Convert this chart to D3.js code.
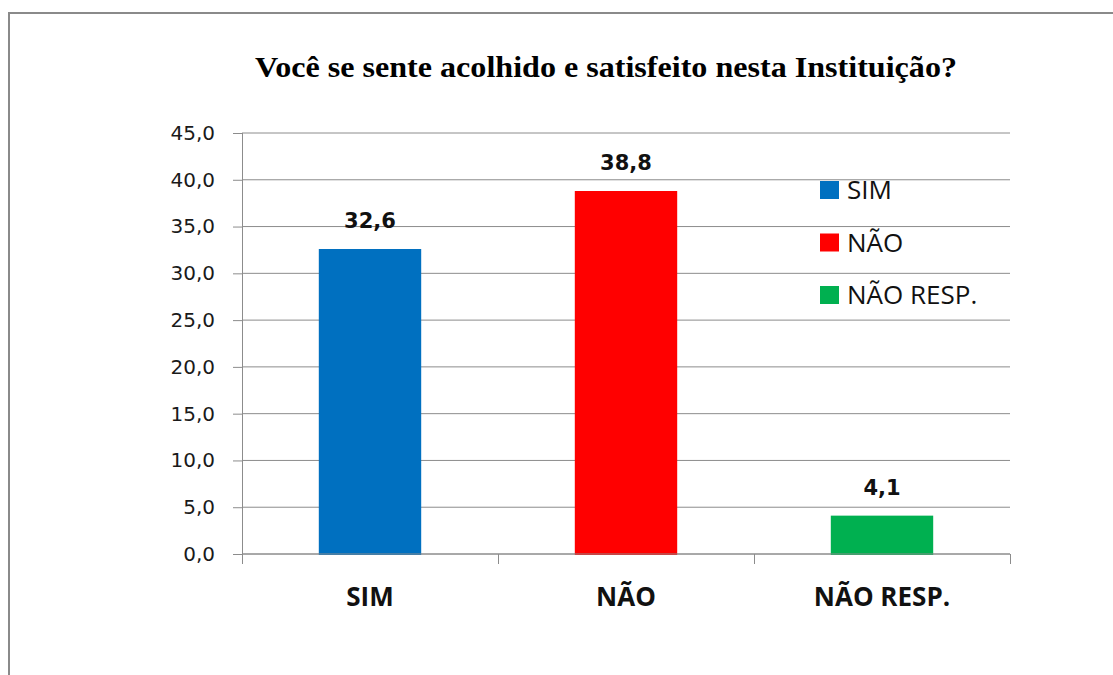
<!DOCTYPE html>
<html>
<head>
<meta charset="utf-8">
<script src="https://cdn.jsdelivr.net/npm/d3@7"></script>
<style>
  body { margin: 0; background: #fff; }
  svg { display: block; }
</style>
</head>
<body>
<svg width="1113" height="675"></svg>
<script>
var categories = ["SIM", "NÃO", "NÃO RESP."];
var values = [32.6, 38.8, 4.1];
var colors = ["#0070C0", "#FF0000", "#00B050"];
var yTicks = [0, 5, 10, 15, 20, 25, 30, 35, 40, 45];
var title = "Você se sente acolhido e satisfeito nesta Instituição?";

var svg = d3.select("svg"),
    margin = {top: 133, right: 103, bottom: 121, left: 242},
    width = +svg.attr("width") - margin.left - margin.right,
    height = +svg.attr("height") - margin.top - margin.bottom;

var fmt = function(v) { return d3.format(".1f")(v).replace(".", ","); };

// outer frame
svg.append("rect")
    .attr("x", 9).attr("y", 13)
    .attr("width", 1130).attr("height", 700)
    .attr("fill", "none")
    .attr("stroke", "#8a8a8a")
    .attr("stroke-width", 2);

svg.append("text")
    .attr("x", 255).attr("y", 77)
    .attr("textLength", 702)
    .attr("lengthAdjust", "spacingAndGlyphs")
    .style("font-family", "'Liberation Serif', 'Times New Roman', serif")
    .style("font-weight", "bold")
    .style("font-size", "29px")
    .text(title);

var g = svg.append("g").attr("transform", "translate(" + margin.left + "," + margin.top + ")");

var x = d3.scaleBand()
    .domain(categories)
    .range([0, width])
    .paddingInner(0.6)
    .paddingOuter(0.3);

var y = d3.scaleLinear()
    .domain([0, 45])
    .range([height, 0]);

// gridlines
g.selectAll(".grid")
  .data(yTicks)
  .enter().append("line")
    .attr("x1", 0).attr("x2", width)
    .attr("y1", function(d) { return y(d); })
    .attr("y2", function(d) { return y(d); })
    .attr("stroke", "#8c8c8c")
    .attr("stroke-width", 1);

// y axis
var yAxis = g.append("g")
    .call(d3.axisLeft(y).tickValues(yTicks).tickFormat(fmt).tickSize(9).tickPadding(18));
yAxis.select(".domain").remove();
yAxis.selectAll("line").attr("stroke", "#8c8c8c");
yAxis.selectAll("text")
    .attr("fill", "#1a1a1a")
    .style("font-family", "'DejaVu Sans', sans-serif")
    .style("font-size", "20px");

g.append("line")
    .attr("x1", 0.5).attr("x2", 0.5)
    .attr("y1", 0).attr("y2", height + 10)
    .attr("stroke", "#8c8c8c");

// bars
g.selectAll(".bar")
  .data(values)
  .enter().append("rect")
    .attr("x", function(d, i) { return x(categories[i]); })
    .attr("y", function(d) { return y(d); })
    .attr("width", x.bandwidth())
    .attr("height", function(d) { return y(0) - y(d) + 1; })
    .attr("fill", function(d, i) { return colors[i]; });

// category separators on x axis
var bounds = categories.map(function(c) { return x(c) + x.bandwidth() + x.step() * x.paddingInner() / 2; });
g.selectAll(".xtick")
  .data(bounds)
  .enter().append("line")
    .attr("x1", function(d) { return Math.round(d) + 0.5; })
    .attr("x2", function(d) { return Math.round(d) + 0.5; })
    .attr("y1", height).attr("y2", height + 10)
    .attr("stroke", "#8c8c8c");

g.append("line")
    .attr("x1", 0).attr("x2", width)
    .attr("y1", y(0)).attr("y2", y(0))
    .attr("stroke", "#8c8c8c");

// x labels
g.selectAll(".xlabel")
  .data(categories)
  .enter().append("text")
    .attr("x", function(d) { return x(d) + x.bandwidth() / 2; })
    .attr("y", height + 52)
    .attr("text-anchor", "middle")
    .attr("fill", "#111")
    .style("font-family", "'Open Sans', sans-serif")
    .style("font-weight", "bold")
    .style("font-size", "26px")
    .text(function(d) { return d; });

// value labels
g.selectAll(".vlabel")
  .data(values)
  .enter().append("text")
    .attr("x", function(d, i) { return x(categories[i]) + x.bandwidth() / 2; })
    .attr("y", function(d) { return y(d) - 21; })
    .attr("text-anchor", "middle")
    .attr("fill", "#111")
    .style("font-family", "'DejaVu Sans', sans-serif")
    .style("font-weight", "bold")
    .style("font-size", "21px")
    .text(function(d) { return fmt(d); });

// legend
var legend = svg.append("g").attr("transform", "translate(820,181)");
var item = legend.selectAll(".item")
  .data(categories)
  .enter().append("g")
    .attr("transform", function(d, i) { return "translate(0," + (i * 52.5) + ")"; });
item.append("rect")
    .attr("width", 19).attr("height", 18)
    .attr("fill", function(d, i) { return colors[i]; });
item.append("text")
    .attr("x", 27).attr("y", 18)
    .attr("fill", "#111")
    .style("font-family", "'Open Sans', sans-serif")
    .style("font-size", "26px")
    .text(function(d) { return d; });
</script>
</body>
</html>
